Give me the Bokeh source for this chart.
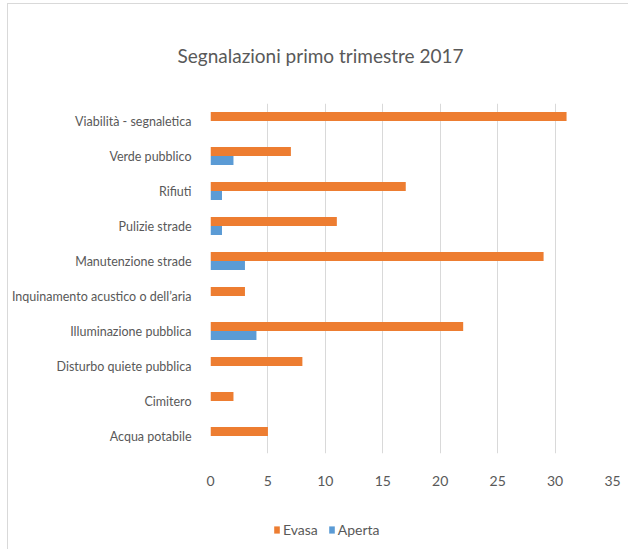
from bokeh.plotting import figure
from bokeh.layouts import column
from bokeh.models import Range1d, FactorRange, FixedTicker, Legend, LegendItem, Title
from bokeh.transform import dodge
from bokeh.embed import file_html
from bokeh.resources import INLINE

categories = ["Viabilità - segnaletica", "Verde pubblico", "Rifiuti", "Pulizie strade",
              "Manutenzione strade", "Inquinamento acustico o dell’aria",
              "Illuminazione pubblica", "Disturbo quiete pubblica", "Cimitero", "Acqua potabile"]
evasa = [31, 7, 17, 11, 29, 3, 22, 8, 2, 5]
aperta = [0, 2, 1, 1, 3, 0, 4, 0, 0, 0]
x_ticks = [0, 5, 10, 15, 20, 25, 30, 35]
series_names = ["Evasa", "Aperta"]

FONT = "Lato"
TXT = "#595959"
ORANGE = "#ED7D31"
BLUE = "#5B9BD5"

p = figure(width=620, height=496, output_backend="svg", toolbar_location=None,
           y_range=FactorRange(factors=list(reversed(categories))),
           x_range=Range1d(0, 35),
           min_border_left=202, min_border_right=16, min_border_top=97, min_border_bottom=47)
p.outline_line_color = None

data = dict(cat=categories, evasa=evasa, aperta=aperta)
r1 = p.hbar(y=dodge("cat", 0.128, range=p.y_range), right="evasa", left=0, height=0.256,
            source=data, fill_color=ORANGE, line_color=None)
r2 = p.hbar(y=dodge("cat", -0.128, range=p.y_range), right="aperta", left=0, height=0.256,
            source=data, fill_color=BLUE, line_color=None)

p.ygrid.grid_line_color = None
p.xgrid.grid_line_color = "#d9d9d9"
p.xgrid.ticker = FixedTicker(ticks=x_ticks)
p.xaxis.ticker = FixedTicker(ticks=x_ticks)

for ax in (p.xaxis[0], p.yaxis[0]):
    ax.axis_line_color = None
    ax.major_tick_line_color = None
    ax.minor_tick_line_color = None
    ax.major_label_text_font = FONT
    ax.major_label_text_color = TXT
    ax.major_label_text_font_size = "14px"
p.yaxis.major_label_text_font_size = "12.5px"
p.xaxis.major_label_standoff = 16
p.yaxis.major_label_standoff = 13

t = Title(text="Segnalazioni primo trimestre 2017", align="left", offset=-33,
          text_font=FONT, text_font_size="19px", text_color=TXT, text_font_style="normal",
          standoff=74)
p.add_layout(t, "above")

# legend strip below the chart
lg = figure(width=620, height=49, output_backend="svg", toolbar_location=None,
            x_range=Range1d(0, 620), y_range=Range1d(0, 49),
            x_axis_type=None, y_axis_type=None,
            min_border_left=0, min_border_right=0, min_border_top=0, min_border_bottom=0)
lg.outline_line_color = None
lg.xgrid.grid_line_color = None
lg.ygrid.grid_line_color = None
k1 = lg.hbar(y=[-100], right=[-100], left=-100, height=1, fill_color=ORANGE, line_color=None)
k2 = lg.hbar(y=[-100], right=[-100], left=-100, height=1, fill_color=BLUE, line_color=None)
legend = Legend(items=[LegendItem(label=series_names[0], renderers=[k1]),
                       LegendItem(label=series_names[1], renderers=[k2])],
                orientation="horizontal", location=(63, 11),
                padding=0, margin=0, spacing=10, label_standoff=3,
                glyph_width=7, glyph_height=9, label_text_font=FONT,
                label_text_font_size="14px", label_text_color=TXT,
                border_line_color=None, background_fill_alpha=0)
lg.add_layout(legend, "center")

layout = column(p, lg, spacing=0)
layout.styles = {"border-left": "1px solid #d9d9d9", "border-top": "1px solid #d9d9d9",
                 "margin-left": "7px", "margin-top": "3px"}

open("out.html", "w").write(file_html(layout, INLINE))
